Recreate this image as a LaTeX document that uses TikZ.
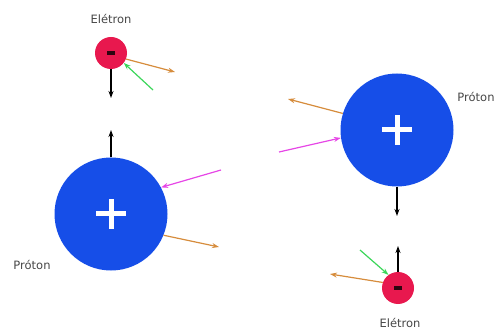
\documentclass[tikz,border=0pt]{standalone}
\usepackage{fontspec}
\setmainfont{DejaVu Sans}
\usetikzlibrary{arrows.meta}
\definecolor{elred}{RGB}{232,24,78}
\definecolor{prblue}{RGB}{22,78,232}
\definecolor{orarr}{RGB}{214,140,60}
\definecolor{grarr}{RGB}{60,214,90}
\definecolor{mgarr}{RGB}{230,70,230}
\definecolor{txtgray}{RGB}{70,70,70}
\tikzset{
  electron/.style={circle,fill=elred,minimum size=32pt,inner sep=0pt},
  proton/.style={circle,fill=prblue,minimum size=113pt,inner sep=0pt},
  lbl/.style={text=txtgray,font=\fontsize{11.5}{12}\selectfont,inner sep=0pt},
  arr/.style={line width=1.2pt,-{Stealth[length=7pt,width=5pt]}},
  blackarr/.style={arr,black,line width=1.4pt},
  orangearr/.style={arr,orarr},
  greenarr/.style={arr,grarr},
  magentaarr/.style={arr,mgarr}
}
\begin{document}
\begin{tikzpicture}[x=1pt,y=-1pt]
\useasboundingbox (0,0) rectangle (498,331);
% particles
\node[electron] (e1) at (111,53) {};
\node[proton] (p1) at (111,214) {};
\node[proton] (p2) at (397,130) {};
\node[electron] (e2) at (398,288) {};
% signs
\fill[black!80!elred] (e1.center) ++(-4,-1.6) rectangle ++(8,3.2);
\fill[black!80!elred] (e2.center) ++(-4,-1.6) rectangle ++(8,3.2);
\fill[white] (p1.center) ++(-15,-2.5) rectangle ++(30,5);
\fill[white] (p1.center) ++(-2.5,-15) rectangle ++(5,30);
\fill[white] (p2.center) ++(-15,-2.5) rectangle ++(30,5);
\fill[white] (p2.center) ++(-2.5,-15) rectangle ++(5,30);
% labels
\node[lbl] (le1) at (111,19) {Elétron};
\node[lbl] (lp1) at (32,265) {Próton};
\node[lbl] (lp2) at (476,97) {Próton};
\node[lbl] (le2) at (400,323) {Elétron};
% free ends
\coordinate (e1b) at (111,98);
\coordinate (e1o) at (175,72);
\coordinate (e1g) at (153,90);
\coordinate (p1b) at (111,130);
\coordinate (p1m) at (221,170);
\coordinate (p1o) at (219,247);
\coordinate (p2o) at (288,99);
\coordinate (p2m) at (279,152);
\coordinate (p2b) at (397,216);
\coordinate (e2b) at (398,246);
\coordinate (e2g) at (360,250);
\coordinate (e2o) at (330,274);
% arrows
\draw[blackarr] (e1.south) -- (e1b);
\draw[orangearr] (e1.-22) -- (e1o);
\draw[greenarr] (e1g) -- (e1.-38);
\draw[blackarr] (p1.north) -- (p1b);
\draw[magentaarr] (p1m) -- (p1.28);
\draw[orangearr] (p1.-22) -- (p1o);
\draw[orangearr] (p2.163) -- (p2o);
\draw[magentaarr] (p2m) -- (p2.188);
\draw[blackarr] (p2.south) -- (p2b);
\draw[blackarr] (e2.north) -- (e2b);
\draw[greenarr] (e2g) -- (e2.126);
\draw[orangearr] (e2.160) -- (e2o);
\end{tikzpicture}
\end{document}
